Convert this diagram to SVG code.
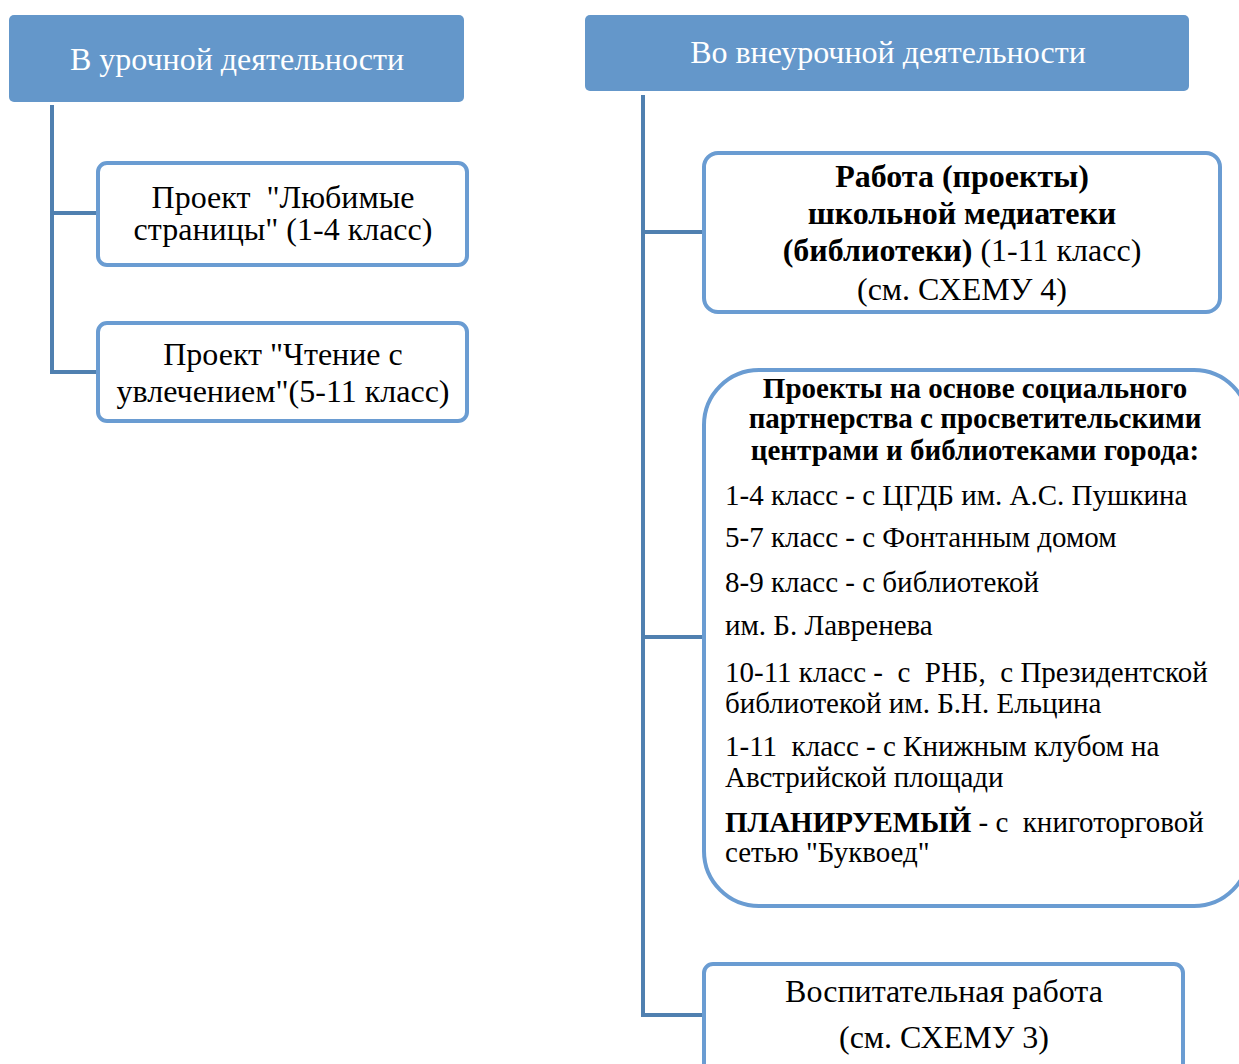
<svg xmlns="http://www.w3.org/2000/svg" width="1239" height="1064" viewBox="0 0 1239 1064">
<style>
.hdr{fill:#6497CA;}
.box{fill:#fff;stroke:#6A9CD2;stroke-width:4;}
.con{fill:none;stroke:#5080B0;stroke-width:4;}
text{font-family:"Liberation Serif","Times New Roman",serif;fill:#000;}
.ht{fill:#fff;font-size:32px;text-anchor:middle;}
.t{font-size:32px;}
.c{text-anchor:middle;}
.b{font-weight:bold;}
.s{font-size:29px;}
</style>
<rect width="1239" height="1064" fill="#fff"/>
<g id="connectors">
<polyline class="con" points="52,105 52,372 97,372"/>
<line class="con" x1="52" y1="213" x2="97" y2="213"/>
<polyline class="con" points="643,95 643,1015 703,1015"/>
<line class="con" x1="643" y1="232" x2="703" y2="232"/>
<line class="con" x1="643" y1="637" x2="703" y2="637"/>
</g>
<g id="n-left-header">
<rect class="hdr" x="9" y="15" width="455" height="87" rx="5"/>
<text class="ht" x="237" y="70">В урочной деятельности</text>
</g>
<g id="n-right-header">
<rect class="hdr" x="585" y="15" width="604" height="76" rx="5"/>
<text class="ht" x="888" y="63">Во внеурочной деятельности</text>
</g>
<g id="n-proj1">
<rect class="box" x="98" y="163" width="369" height="102" rx="9"/>
<text class="t c" x="283" y="208" xml:space="preserve">Проект  "Любимые</text>
<text class="t c" x="283" y="240">страницы" (1-4 класс)</text>
</g>
<g id="n-proj2">
<rect class="box" x="98" y="323" width="369" height="98" rx="9"/>
<text class="t c" x="283" y="365">Проект "Чтение с</text>
<text class="t c" x="283" y="402">увлечением"(5-11 класс)</text>
</g>
<g id="n-media">
<rect class="box" x="704" y="153" width="516" height="159" rx="14"/>
<text class="t c b" x="962" y="187">Работа (проекты)</text>
<text class="t c b" x="962" y="224">школьной медиатеки</text>
<text class="t c" x="962" y="261"><tspan class="b">(библиотеки)</tspan> (1-11 класс)</text>
<text class="t c" x="962" y="300">(см. СХЕМУ 4)</text>
</g>
<g id="n-partners">
<rect class="box" x="704" y="370" width="545" height="536" rx="55"/>
<text class="c b" font-size="29" x="975" y="398">Проекты на основе социального</text>
<text class="c b" font-size="29" x="975" y="428">партнерства с просветительскими</text>
<text class="c b" font-size="29" x="975" y="460">центрами и библиотеками города:</text>
<text class="s" x="725" y="505">1-4 класс - с ЦГДБ им. А.С. Пушкина</text>
<text class="s" x="725" y="547">5-7 класс - с Фонтанным домом</text>
<text class="s" x="725" y="592">8-9 класс - с библиотекой</text>
<text class="s" x="725" y="635">им. Б. Лавренева</text>
<text class="s" x="725" y="682" xml:space="preserve">10-11 класс -  с  РНБ,  с Президентской</text>
<text class="s" x="725" y="713">библиотекой им. Б.Н. Ельцина</text>
<text class="s" x="725" y="756" xml:space="preserve">1-11  класс - с Книжным клубом на</text>
<text class="s" x="725" y="787">Австрийской площади</text>
<text class="s" x="725" y="832" xml:space="preserve"><tspan class="b">ПЛАНИРУЕМЫЙ</tspan> - с  книготорговой</text>
<text class="s" x="725" y="862">сетью "Буквоед"</text>
</g>
<g id="n-vosp">
<rect class="box" x="704" y="964" width="479" height="110" rx="9"/>
<text class="t c" x="944" y="1002">Воспитательная работа</text>
<text class="t c" x="944" y="1048">(см. СХЕМУ 3)</text>
</g>
</svg>
